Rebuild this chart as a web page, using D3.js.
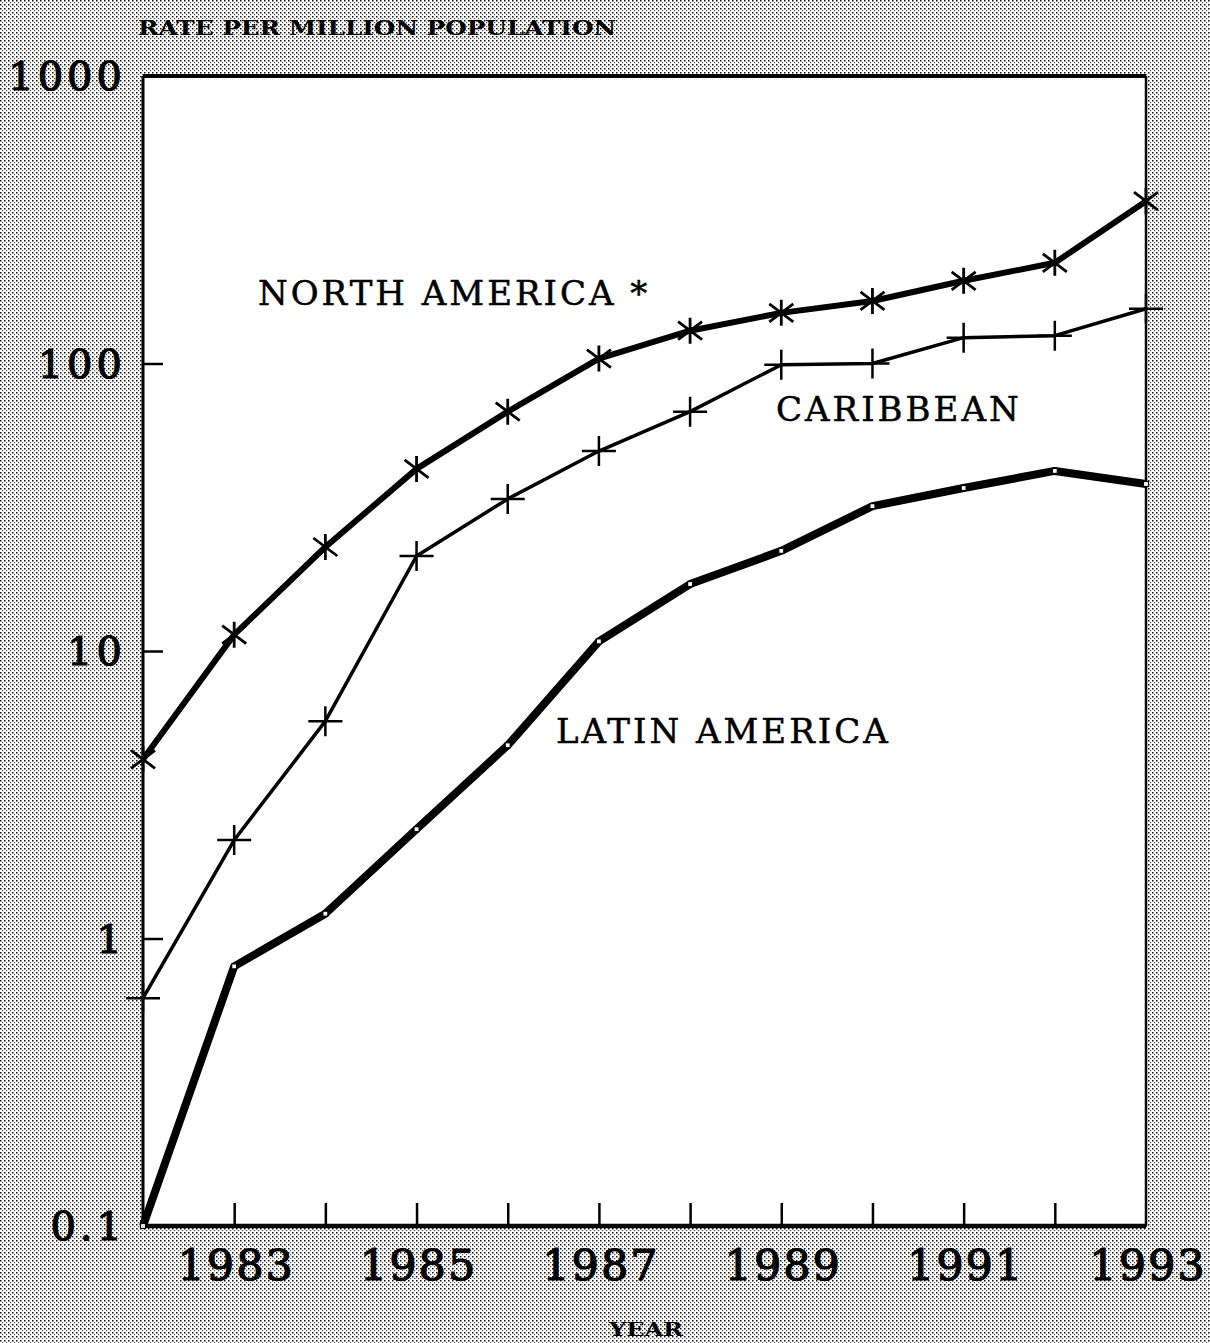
<!DOCTYPE html>
<html>
<head>
<meta charset="utf-8">
<script src="https://cdn.jsdelivr.net/npm/d3@7"></script>
<style>
  html, body { margin: 0; padding: 0; background: #fff; }
  svg { display: block; }
</style>
</head>
<body>
<svg id="chart" width="1210" height="1343"></svg>
<script>
const years = [1982, 1983, 1984, 1985, 1986, 1987, 1988, 1989, 1990, 1991, 1992, 1993];
const northAmerica = [4.2, 11.4, 23, 43, 68, 104, 130, 150, 165, 194, 224, 367];
const caribbean = [0.62, 2.2, 5.7, 21.4, 33.8, 49.6, 68, 99, 100, 123, 125, 155];
const latinAmerica = [0.1, 0.8, 1.22, 2.4, 4.7, 10.8, 17.1, 22.3, 31.9, 36.9, 42.3, 38.1];
const yTickValues = [0.1, 1, 10, 100, 1000];
const yTickLabels = ["0.1", "1", "10", "100", "1000"];
const xTickLabelYears = [1983, 1985, 1987, 1989, 1991, 1993];
const seriesNames = ["NORTH AMERICA *", "CARIBBEAN", "LATIN AMERICA"];
const titleText = "RATE PER MILLION POPULATION";
const xTitleText = "YEAR";

(function () {
const svg = d3.select("#chart");
const W = 1210, H = 1343;
const pLeft = 143, pRight = 1146, pTop = 76, pBottom = 1226;

// dithered background
const defs = svg.append("defs");
const pat = defs.append("pattern").attr("id", "dither")
  .attr("width", 4).attr("height", 4).attr("patternUnits", "userSpaceOnUse");
pat.append("rect").attr("width", 4).attr("height", 4).attr("fill", "#fff");
pat.append("rect").attr("x", 0).attr("y", 0).attr("width", 1.5).attr("height", 1.5).attr("fill", "#111");
pat.append("rect").attr("x", 2).attr("y", 2).attr("width", 1.2).attr("height", 1.2).attr("fill", "#555");
svg.append("rect").attr("width", W).attr("height", H).attr("fill", "url(#dither)");

const x = d3.scaleLinear().domain([1982, 1993]).range([pLeft, pRight]);
const y = d3.scaleLog().domain([0.1, 1000]).range([pBottom, pTop]);

// plot area
svg.append("rect").attr("x", pLeft).attr("y", pTop).attr("width", pRight - pLeft).attr("height", pBottom - pTop)
  .attr("fill", "#fff");

const serif = "'DejaVu Serif', 'Liberation Serif', serif";

// frame
svg.append("line").attr("x1", pLeft).attr("x2", pRight).attr("y1", pTop).attr("y2", pTop)
  .attr("stroke", "#000").attr("stroke-width", 4);
svg.append("line").attr("x1", pLeft).attr("x2", pLeft).attr("y1", pTop).attr("y2", pBottom)
  .attr("stroke", "#000").attr("stroke-width", 3);
svg.append("line").attr("x1", pRight).attr("x2", pRight).attr("y1", pTop).attr("y2", pBottom)
  .attr("stroke", "#000").attr("stroke-width", 2.5);

// axes via d3
const xAxis = d3.axisBottom(x).tickValues(years.slice(1, -1)).tickSize(-23).tickFormat("");
const gx = svg.append("g").attr("transform", `translate(0,${pBottom})`).call(xAxis);
gx.select(".domain").attr("stroke-width", 4.5).attr("d", `M${pLeft},0H${pRight}`);
gx.selectAll(".tick line").attr("stroke-width", 2.5);

const yAxis = d3.axisLeft(y).tickValues(yTickValues.slice(1, -1)).tickSize(-20).tickFormat("");
const gy = svg.append("g").attr("transform", `translate(${pLeft},0)`).call(yAxis);
gy.select(".domain").remove();
gy.selectAll(".tick line").attr("stroke-width", 2.5);

// y tick labels
svg.append("g").selectAll("text").data(yTickValues).join("text")
  .attr("x", 126).attr("y", d => y(d) + 14)
  .attr("text-anchor", "end")
  .attr("font-family", serif).attr("font-size", 40).attr("letter-spacing", 4)
  .attr("fill", "#000").attr("stroke", "#000").attr("stroke-width", 1.2)
  .text((d, i) => yTickLabels[i]);

// x tick labels
svg.append("g").selectAll("text").data(xTickLabelYears).join("text")
  .attr("x", d => x(d) + 2).attr("y", 1280)
  .attr("text-anchor", "middle")
  .attr("font-family", serif).attr("font-size", 43).attr("letter-spacing", 2)
  .attr("fill", "#000").attr("stroke", "#000").attr("stroke-width", 1.2)
  .text(d => d);

// titles
svg.append("text").attr("x", 138).attr("y", 35)
  .attr("font-family", serif).attr("font-weight", "bold").attr("font-size", 20)
  .attr("textLength", 478).attr("lengthAdjust", "spacingAndGlyphs")
  .text(titleText);
svg.append("text").attr("x", 646).attr("y", 1336).attr("text-anchor", "middle")
  .attr("font-family", serif).attr("font-weight", "bold").attr("font-size", 19)
  .attr("textLength", 74).attr("lengthAdjust", "spacingAndGlyphs")
  .text(xTitleText);

const line = d3.line().x((d, i) => x(years[i])).y(d => y(d));

// Latin America
svg.append("path").datum(latinAmerica).attr("d", line)
  .attr("fill", "none").attr("stroke", "#000").attr("stroke-width", 8).attr("stroke-linejoin", "round");
svg.append("g").selectAll("rect").data(latinAmerica).join("rect")
  .attr("x", (d, i) => x(years[i]) - 2.5).attr("y", d => y(d) - 2.5)
  .attr("width", 5).attr("height", 5).attr("fill", "#fff").attr("stroke", "#000").attr("stroke-width", 1.2);

// Caribbean
svg.append("path").datum(caribbean).attr("d", line)
  .attr("fill", "none").attr("stroke", "#000").attr("stroke-width", 3.5).attr("stroke-linejoin", "round");
svg.append("g").selectAll("path").data(caribbean).join("path")
  .attr("transform", (d, i) => `translate(${x(years[i])},${y(d)})`)
  .attr("d", "M-17,0H17M0,-15V15")
  .attr("stroke", "#000").attr("stroke-width", 2.5);

// North America
svg.append("path").datum(northAmerica).attr("d", line)
  .attr("fill", "none").attr("stroke", "#000").attr("stroke-width", 6).attr("stroke-linejoin", "round");
svg.append("g").selectAll("path").data(northAmerica).join("path")
  .attr("transform", (d, i) => `translate(${x(years[i])},${y(d)})`)
  .attr("d", "M-12,-9L12,9M12,-9L-12,9M0,-13V13")
  .attr("stroke", "#000").attr("stroke-width", 2.8);

// series labels
const labelPos = [[258, 305], [776, 421], [556, 743]];
svg.append("g").selectAll("text").data(seriesNames).join("text")
  .attr("x", (d, i) => labelPos[i][0]).attr("y", (d, i) => labelPos[i][1])
  .attr("font-family", serif).attr("font-size", 34).attr("letter-spacing", 3)
  .attr("fill", "#000").attr("stroke", "#000").attr("stroke-width", 0.5)
  .text(d => d);
})();
</script>
</body>
</html>
